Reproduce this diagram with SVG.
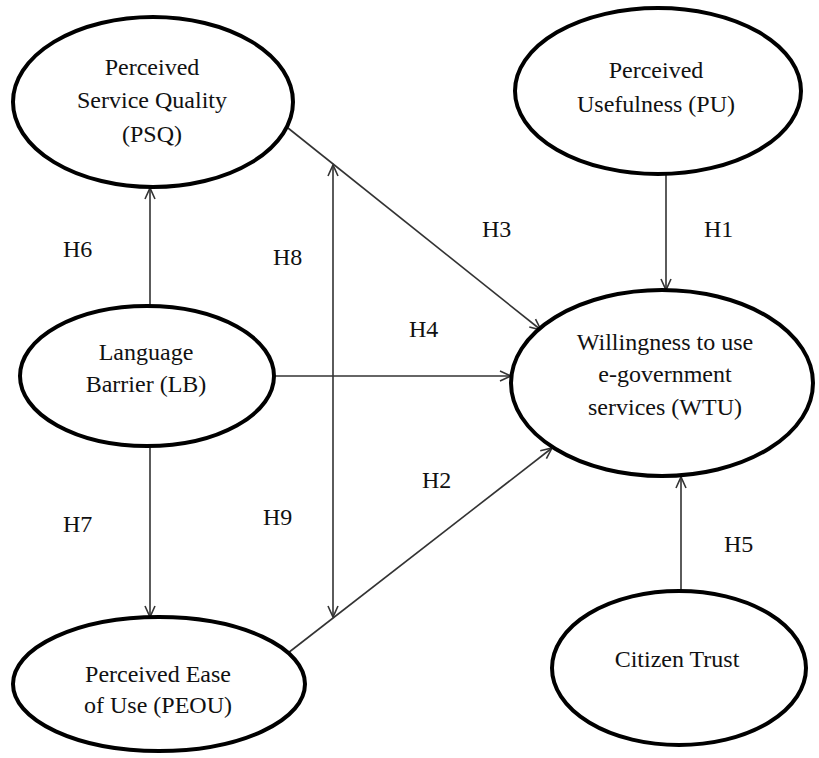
<svg xmlns="http://www.w3.org/2000/svg" width="819" height="758" viewBox="0 0 819 758">
<style>
.node{fill:#fff;stroke:#000;stroke-width:4}
text{font-family:'Liberation Serif','Times New Roman',Tinos,'DejaVu Serif',serif;font-size:24px;fill:#111}
.t{text-anchor:middle}
.c{stroke:#333;stroke-width:1.6;fill:none}
</style>
<defs>
<marker id="ah" markerUnits="userSpaceOnUse" markerWidth="14" markerHeight="14" viewBox="-12 -7 14 14" refX="0" refY="0" orient="auto-start-reverse">
<path d="M-11,-5 L0,0 L-11,5" fill="none" stroke="#333" stroke-width="1.6"/>
</marker>
</defs>
<rect width="819" height="758" fill="#fff"/>
<g id="connectors">
<line class="c" x1="666" y1="175" x2="666" y2="290" marker-end="url(#ah)"/>
<line class="c" x1="288" y1="128" x2="541" y2="330" marker-end="url(#ah)"/>
<line class="c" x1="274" y1="376" x2="511" y2="376" marker-end="url(#ah)"/>
<line class="c" x1="288" y1="653" x2="552" y2="448" marker-end="url(#ah)"/>
<line class="c" x1="681" y1="591" x2="681" y2="477" marker-end="url(#ah)"/>
<line class="c" x1="150" y1="306" x2="150" y2="188" marker-end="url(#ah)"/>
<line class="c" x1="150" y1="446" x2="150" y2="617" marker-end="url(#ah)"/>
<line class="c" x1="333" y1="165" x2="333" y2="617" marker-start="url(#ah)" marker-end="url(#ah)"/>
<text font-family="Liberation Serif" x="63" y="257">H6</text>
<text font-family="Liberation Serif" x="273" y="265">H8</text>
<text font-family="Liberation Serif" x="482" y="237">H3</text>
<text font-family="Liberation Serif" x="704" y="237">H1</text>
<text font-family="Liberation Serif" x="409" y="337">H4</text>
<text font-family="Liberation Serif" x="422" y="488">H2</text>
<text font-family="Liberation Serif" x="63" y="532">H7</text>
<text font-family="Liberation Serif" x="263" y="525">H9</text>
<text font-family="Liberation Serif" x="724" y="552">H5</text>
</g>
<g id="PSQ">
<ellipse class="node" cx="153" cy="102" rx="140" ry="85"/>
<text class="t" x="152" y="75">Perceived</text>
<text class="t" x="152" y="108">Service Quality</text>
<text class="t" x="152" y="142">(PSQ)</text>
</g>
<g id="PU">
<ellipse class="node" cx="658" cy="91" rx="143" ry="83"/>
<text class="t" x="656" y="78">Perceived</text>
<text class="t" x="656" y="112">Usefulness (PU)</text>
</g>
<g id="LB">
<ellipse class="node" cx="147" cy="376" rx="127" ry="70"/>
<text class="t" x="146" y="360">Language</text>
<text class="t" x="146" y="392">Barrier (LB)</text>
</g>
<g id="WTU">
<ellipse class="node" cx="662" cy="383" rx="151" ry="93"/>
<text class="t" x="665" y="350">Willingness to use</text>
<text class="t" x="665" y="382">e-government</text>
<text class="t" x="665" y="415">services (WTU)</text>
</g>
<g id="PEOU">
<ellipse class="node" cx="159" cy="684" rx="146" ry="67"/>
<text class="t" x="158" y="682">Perceived Ease</text>
<text class="t" x="158" y="713">of Use (PEOU)</text>
</g>
<g id="CT">
<ellipse class="node" cx="679" cy="668" rx="127" ry="77"/>
<text class="t" x="677" y="667">Citizen Trust</text>
</g>
</svg>
